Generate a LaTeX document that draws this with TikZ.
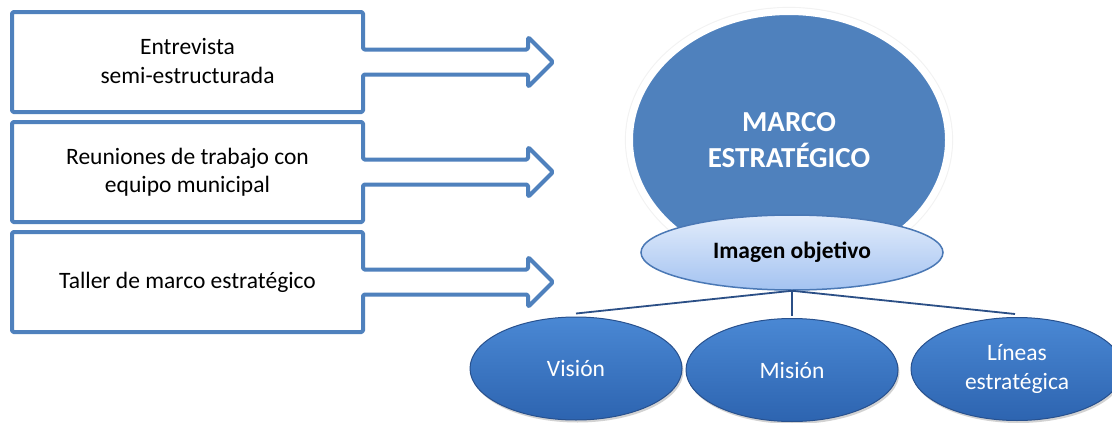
\documentclass[tikz,border=0pt]{standalone}
\usepackage{fontspec}
\setmainfont{Carlito}
\usetikzlibrary{shapes.geometric,shadows,calc}
\definecolor{obl}{HTML}{4F81BD}
\definecolor{linec}{HTML}{2B4F86}
\definecolor{iotop}{HTML}{E2ECFB}
\definecolor{iobot}{HTML}{A4C3F1}
\definecolor{iodraw}{HTML}{4A78B5}
\definecolor{eltop}{HTML}{4A88D4}
\definecolor{elbot}{HTML}{2D64B0}
\definecolor{eldraw}{HTML}{28518E}
\tikzset{
  boxarrow/.style={draw=obl, line width=4pt, fill=white, rounded corners=1.5pt, line join=round},
  boxtext/.style={align=center, font=\fontsize{23.5}{28.5}\selectfont, text=black, inner sep=0pt},
  bigell/.style={ellipse, fill=obl, draw=white, line width=7pt, minimum width=319pt, minimum height=257pt, inner sep=0pt, text=white, align=center, font=\fontsize{29}{35.5}\selectfont\bfseries},
  ioell/.style={ellipse, top color=iotop, bottom color=iobot, draw=iodraw, line width=1.5pt, minimum width=302pt, minimum height=75pt, inner sep=0pt, font=\fontsize{23.5}{28.5}\selectfont\bfseries},
  subell/.style={ellipse, top color=eltop, bottom color=elbot, draw=eldraw, line width=1pt, minimum width=212pt, minimum height=103pt, inner sep=0pt, text=white, align=center, font=\fontsize{23.5}{29.5}\selectfont, drop shadow={opacity=0.35, shadow xshift=1.5pt, shadow yshift=-2.5pt}},
  conn/.style={draw=linec, line width=1.8pt}
}
\begin{document}
\begin{tikzpicture}[x=1pt,y=-1pt]
\fill[white] (0,0) rectangle (1112,423);
\begin{scope}
\clip (0,0) rectangle (1112,423);
% box arrows
\foreach \c/\n in {62/1,172/2,282/3}{
  \draw[boxarrow] (12,\c-50) -- (363,\c-50) -- (363,\c-12.5) -- (528,\c-12.5) -- (528,\c-25)
     -- (553,\c) -- (528,\c+25) -- (528,\c+12.5) -- (363,\c+12.5) -- (363,\c+50) -- (12,\c+50) -- cycle;
  \coordinate (tip\n) at (553,\c);
}
\node[boxtext] (b1) at (187.5,61) {Entrevista\\semi-estructurada};
\node[boxtext] (b2) at (187.5,172) {Reuniones de trabajo con\\equipo municipal};
\node[boxtext] (b3) at (187.5,282) {Taller de marco estratégico};
% big ellipse
\draw[gray!10, line width=1.2pt] (789,140) ellipse [x radius=163.5pt, y radius=132.5pt];
\node[bigell] (marco) at (789,140) {MARCO\\ESTRATÉGICO};
% imagen objetivo
\node[ioell] (io) at (792,252.5) {Imagen objetivo};
% sub ellipses
\node[subell] (vision) at (576,368.5) {Visión};
\node[subell] (mision) at (792,370) {Misión};
\node[subell] (lineas) at (1017,369) {Líneas\\estratégica};
% connectors
\draw[conn] (io.south) -- ($(vision.north)+(0,-3)$);
\draw[conn] (io.south) -- ($(mision.north)+(0,-2)$);
\draw[conn] (io.south) -- ($(lineas.north)+(-2,-3)$);
\end{scope}
\pgfresetboundingbox
\useasboundingbox (0,0) rectangle (1112,423);
\end{tikzpicture}
\end{document}
